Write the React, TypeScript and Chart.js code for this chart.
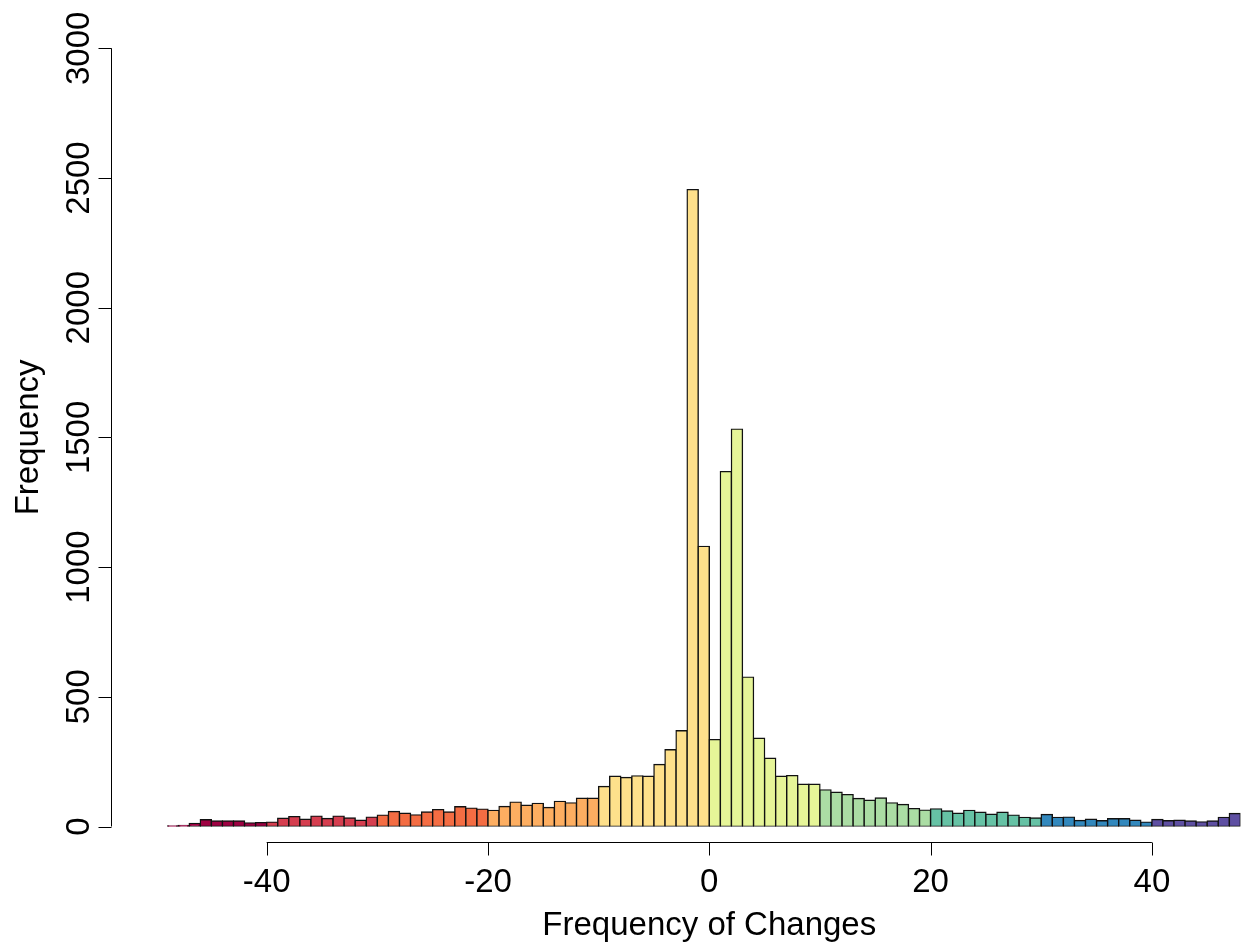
import React, { useEffect, useRef } from 'react';
import { Chart, registerables } from 'chart.js';

Chart.register(...registerables);

// Lower edge of each histogram bin (width 1)
const binStarts = [
  -49, -48, -47, -46, -45, -44, -43, -42, -41, -40,
  -39, -38, -37, -36, -35, -34, -33, -32, -31, -30,
  -29, -28, -27, -26, -25, -24, -23, -22, -21, -20,
  -19, -18, -17, -16, -15, -14, -13, -12, -11, -10,
  -9, -8, -7, -6, -5, -4, -3, -2, -1, 0,
  1, 2, 3, 4, 5, 6, 7, 8, 9, 10,
  11, 12, 13, 14, 15, 16, 17, 18, 19, 20,
  21, 22, 23, 24, 25, 26, 27, 28, 29, 30,
  31, 32, 33, 34, 35, 36, 37, 38, 39, 40,
  41, 42, 43, 44, 45, 46, 47,
];

// Frequency of each bin
const counts = [
  2, 4, 12, 26, 21, 21, 21, 14, 15, 17,
  32, 38, 28, 40, 31, 40, 33, 24, 36, 44,
  58, 51, 45, 56, 65, 56, 76, 71, 67, 62,
  77, 94, 82, 89, 73, 97, 91, 109, 109, 154,
  194, 189, 195, 194, 239, 296, 369, 2455, 1080, 335,
  1368, 1532, 576, 340, 263, 194, 196, 163, 163, 141,
  132, 123, 108, 101, 110, 91, 85, 69, 63, 68,
  60, 51, 62, 55, 47, 55, 44, 35, 33, 46,
  35, 36, 23, 28, 22, 30, 30, 24, 17, 27,
  22, 24, 21, 18, 21, 35, 50,
];

const palette = [
  '#9E0142', '#D53E4F', '#F46D43', '#FDAE61', '#FEE08B',
  '#E6F598', '#ABDDA4', '#66C2A5', '#3288BD', '#5E4FA2',
];

const xTickValues = [-40, -20, 0, 20, 40];
const yTickValues = [0, 500, 1000, 1500, 2000, 2500, 3000];
const xTitle = 'Frequency of Changes';
const yTitle = 'Frequency';

const FONT = '33px "Liberation Sans", Arial, Helvetica, sans-serif';

const rAxesPlugin = {
  id: 'rAxes',
  afterDraw(chart: any) {
    const { ctx } = chart;
    const x = chart.scales.x;
    const y = chart.scales.y;
    const base = y.getPixelForValue(0);
    const axY = Math.round(base + 15.5) + 0.5;
    const axX = Math.round(x.getPixelForValue(-49) - 56) + 0.5;
    const tick = 13;
    ctx.save();
    ctx.strokeStyle = '#000';
    ctx.lineWidth = 1;
    // x axis
    ctx.beginPath();
    ctx.moveTo(x.getPixelForValue(xTickValues[0]), axY);
    ctx.lineTo(x.getPixelForValue(xTickValues[xTickValues.length - 1]), axY);
    xTickValues.forEach((v) => {
      const px = Math.round(x.getPixelForValue(v)) + 0.5;
      ctx.moveTo(px, axY);
      ctx.lineTo(px, axY + tick);
    });
    // y axis
    ctx.moveTo(axX, y.getPixelForValue(yTickValues[0]));
    ctx.lineTo(axX, y.getPixelForValue(yTickValues[yTickValues.length - 1]));
    yTickValues.forEach((v) => {
      const py = Math.round(y.getPixelForValue(v)) + 0.5;
      ctx.moveTo(axX, py);
      ctx.lineTo(axX - tick, py);
    });
    ctx.stroke();

    ctx.fillStyle = '#000';
    ctx.font = FONT;
    ctx.textAlign = 'center';
    ctx.textBaseline = 'alphabetic';
    xTickValues.forEach((v) => {
      ctx.fillText(String(v), x.getPixelForValue(v), axY + 49);
    });
    yTickValues.forEach((v) => {
      ctx.save();
      ctx.translate(axX - 23, y.getPixelForValue(v));
      ctx.rotate(-Math.PI / 2);
      ctx.fillText(String(v), 0, 0);
      ctx.restore();
    });
    // titles
    ctx.fillText(xTitle, x.getPixelForValue(0), axY + 92);
    ctx.save();
    ctx.translate(38, (y.getPixelForValue(0) + y.getPixelForValue(3000)) / 2);
    ctx.rotate(-Math.PI / 2);
    ctx.fillText(yTitle, 0, 0);
    ctx.restore();
    ctx.restore();
  },
};

export default function App() {
  const ref = useRef<HTMLCanvasElement | null>(null);

  useEffect(() => {
    document.body.style.margin = '0';
    document.body.style.overflow = 'hidden';
    const canvas = ref.current;
    if (!canvas) return;
    const data = binStarts.map((s, i) => ({ x: s + 0.5, y: counts[i] }));
    const colors = binStarts.map((s) => palette[Math.min(palette.length - 1, Math.floor((s + 50) / 10))]);
    const chart = new Chart(canvas, {
      type: 'bar',
      data: {
        datasets: [
          {
            data: data as any,
            backgroundColor: colors,
            borderColor: '#111',
            borderWidth: 1.4,
            borderSkipped: false,
            barPercentage: 1,
            categoryPercentage: 1,
            inflateAmount: 0.7,
          } as any,
        ],
      },
      options: {
        responsive: false,
        animation: false,
        devicePixelRatio: 1,
        layout: { padding: { left: 167.1, right: 6.6, top: 48.3, bottom: 115.5 } },
        plugins: {
          legend: { display: false },
          tooltip: { enabled: false },
          title: { display: false },
        },
        scales: {
          x: {
            type: 'linear',
            min: -49,
            max: 48,
            offset: false,
            display: false,
          },
          y: {
            type: 'linear',
            min: 0,
            max: 3000,
            display: false,
          },
        },
      },
      plugins: [rAxesPlugin],
    });
    return () => chart.destroy();
  }, []);

  return (
    <div style={{ width: 1247, height: 942, background: '#fff' }}>
      <canvas ref={ref} width={1247} height={942} style={{ display: 'block' }} />
    </div>
  );
}
